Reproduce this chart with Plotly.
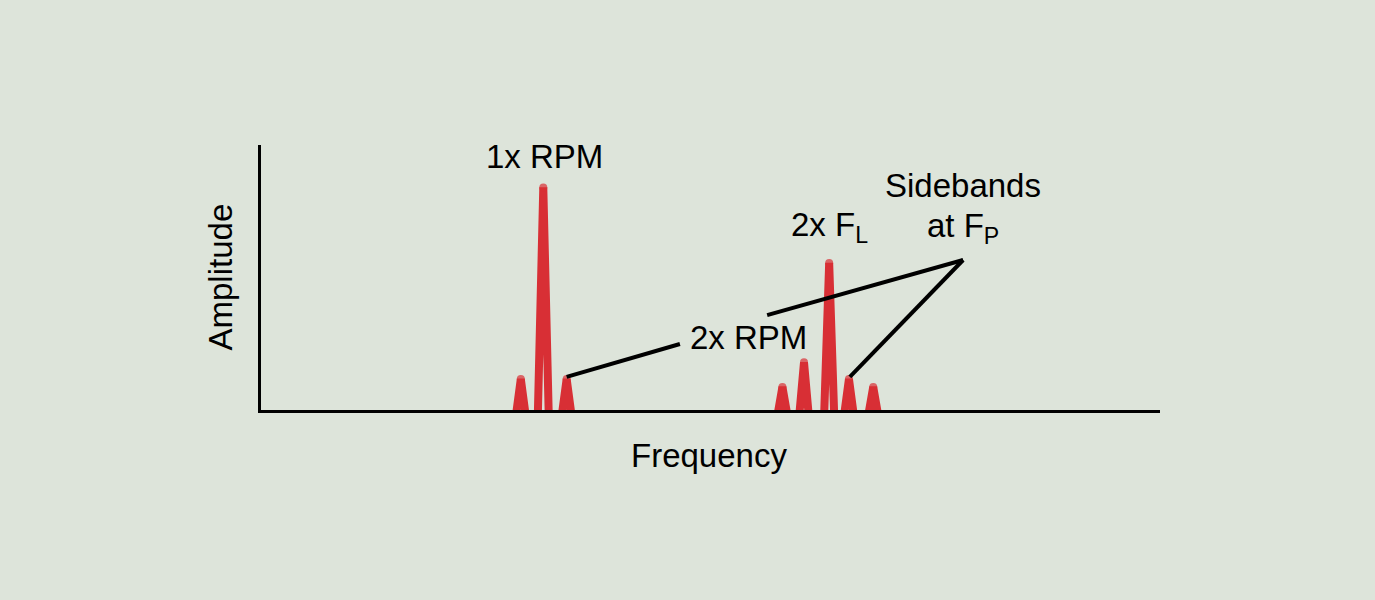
import plotly.graph_objects as go

# Data (frequency units 0-100, amplitude units 0-100)
peak_centers = [28.9, 31.4, 34.0, 58.0, 60.4, 63.2, 65.4, 68.1]
peak_heights = [11.7, 84.0, 11.7, 8.7, 18.0, 55.5, 11.7, 8.7]
peak_halfwidth = [0.5, 0.6, 0.5, 0.5, 0.5, 0.55, 0.5, 0.5]

RED = "#d82f35"
BG = "#dde4da"
FONT = "Liberation Sans, Arial, sans-serif"

fig = go.Figure()
for c, h, w in zip(peak_centers, peak_heights, peak_halfwidth):
    fig.add_trace(go.Scatter(
        x=[c - w, c, c + w], y=[-1, h, -1],
        mode="lines+markers",
        line=dict(color=RED, width=8),
        marker=dict(color=RED, size=[0, 8, 0], line=dict(width=0)),
        showlegend=False, hoverinfo="skip",
    ))

# leader lines (data units)
leaders = [
    ((34.0, 12.5), (46.6, 24.9)),
    ((56.3, 35.8), (78.1, 56.6)),
    ((78.1, 56.6), (65.5, 12.5)),
]
for (x0, y0), (x1, y1) in leaders:
    fig.add_shape(type="line", x0=x0, y0=y0, x1=x1, y1=y1, xref="x", yref="y",
                  line=dict(color="black", width=4), layer="above")

labels = [
    ("1x RPM", 31.5, 95.5),
    ("2x F<sub>L</sub>", 63.2, 69.0),
    ("Sidebands", 78.1, 84.9),
    ("at F<sub>P</sub>", 78.1, 68.5),
    ("2x RPM", 54.2, 27.2),
]
for t, x, y in labels:
    fig.add_annotation(text=t, x=x, y=y, xref="x", yref="y", showarrow=False,
                       font=dict(size=33, color="black", family=FONT),
                       xanchor="center", yanchor="middle")

fig.add_annotation(text="Frequency", x=0.498, y=-0.17, xref="paper", yref="paper",
                   showarrow=False, font=dict(size=33, color="black", family=FONT),
                   xanchor="center", yanchor="middle")
fig.add_annotation(text="Amplitude", x=-0.0456, y=0.5, xref="paper", yref="paper",
                   showarrow=False, textangle=-90,
                   font=dict(size=33, color="black", family=FONT),
                   xanchor="center", yanchor="middle")

fig.update_layout(
    width=1375, height=600,
    margin=dict(l=261, r=215, t=145, b=190),
    paper_bgcolor=BG, plot_bgcolor=BG,
    xaxis=dict(range=[0, 100], showline=True, linecolor="black", linewidth=3,
               showgrid=False, zeroline=False, showticklabels=False, ticks=""),
    yaxis=dict(range=[0, 100], showline=True, linecolor="black", linewidth=3,
               showgrid=False, zeroline=False, showticklabels=False, ticks=""),
)

fig.write_html("out.html", config={"displayModeBar": False},
               post_script="document.body.style.margin='0';document.body.style.background='%s';" % BG)
